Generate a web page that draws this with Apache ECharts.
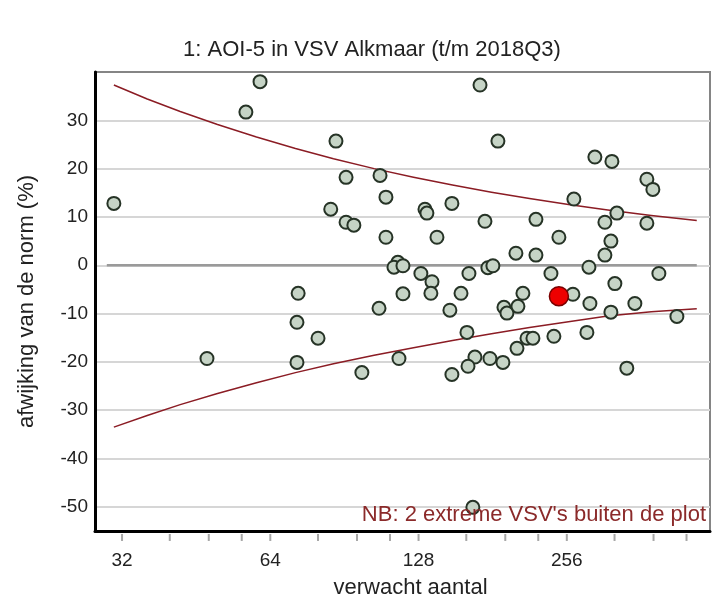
<!DOCTYPE html>
<html><head><meta charset="utf-8">
<script src="https://cdn.jsdelivr.net/npm/echarts@6/dist/echarts.min.js"></script>
<style>html,body{margin:0;padding:0;background:#fff}#c{width:715px;height:607px}</style>
</head><body><div id="c"></div>
<script>
const titleText = '1: AOI-5 in VSV Alkmaar (t/m 2018Q3)';
const xName = 'verwacht aantal';
const yName = 'afwijking van de norm (%)';
const noteText = "NB: 2 extreme VSV's buiten de plot";

const xMin = 28.2, xMax = 500;
const yMin = -55, yMax = 40, yStep = 5;
const xTickLabels = [32, 64, 128, 256];
const xTickMarks = [32, 40, 48, 56, 64, 80, 96, 112, 128, 160, 192, 224, 256, 320, 384, 448];
const yTickLabels = [-50, -40, -30, -20, -10, 0, 10, 20, 30];

const pointX = [61.0, 57.1, 87.0, 91.2, 106.9, 109.9, 30.8, 84.9, 91.2, 94.6, 109.9, 116.2, 114.1, 119.0, 72.9,
  170.6, 185.5, 291.9, 316.1, 372.2, 382.8, 264.6, 131.9, 133.1, 149.6, 323.5, 305.9, 372.2, 174.6, 221.6,
  139.5, 246.7, 314.6, 201.8, 221.6, 305.9, 129.4, 136.3, 162.0, 177.0, 181.2, 237.7, 283.9, 393.7, 320.5,
  119.0, 72.5, 106.4, 80.0, 47.6, 72.5, 116.8, 98.2,
  135.6, 156.1, 208.5, 263.4, 148.2, 190.8, 193.5, 203.7, 285.2, 314.6, 351.9, 428.3, 160.5, 212.5, 218.5,
  241.0, 281.2, 202.8, 166.6, 161.3, 178.7, 189.9, 149.6, 338.9, 165.0];
const pointY = [38.0, 31.7, 25.7, 18.2, 18.6, 14.1, 12.8, 11.6, 8.9, 8.3, 5.8, 0.6, -0.4, -0.1, -5.8,
  37.3, 25.7, 22.4, 21.5, 17.8, 15.7, 13.7, 11.6, 10.8, 12.8, 10.8, 8.9, 8.7, 9.1, 9.5,
  5.8, 5.8, 5.0, 2.5, 2.1, 2.1, -1.7, -3.4, -1.7, -0.5, -0.1, -1.7, -0.4, -1.7, -3.8,
  -5.9, -11.8, -8.9, -15.1, -19.3, -20.1, -19.3, -22.2,
  -5.8, -5.8, -5.8, -6.0, -9.3, -8.7, -9.9, -8.5, -7.9, -9.7, -7.9, -10.6, -13.9, -15.1, -15.1,
  -14.7, -13.9, -17.2, -19.0, -20.9, -19.3, -20.1, -22.6, -21.3, -50.1];

const highlightX = [246.7];
const highlightY = [-6.4];

const upperX = [30.8, 36, 42, 50, 60, 72, 86, 104, 125, 150, 180, 215, 260, 310, 380, 470];
const upperY = [37.3, 34.42, 31.83, 29.14, 26.55, 24.17, 22.04, 20.0, 18.22, 16.6, 15.12, 13.82, 12.53, 11.44, 10.3, 9.28];
const lowerX = [30.8, 36, 42, 50, 60, 72, 86, 104, 125, 150, 180, 215, 260, 310, 380, 470];
const lowerY = [-33.5, -31.08, -28.85, -26.53, -24.3, -22.22, -20.38, -18.64, -17.08, -15.58, -14.17, -12.87, -11.62, -10.52, -9.62, -9.0];
const zeroX = [29.8, 470];
const zeroY = [0, 0];

const zip = (a, b) => a.map((v, i) => [v, b[i]]);
const yTicks = [];
for (let v = yMin; v <= yMax; v += yStep) yTicks.push(v);
const splitColors = yTicks.map(v => (yTickLabels.indexOf(v) >= 0) ? '#d6d6d6' : 'rgba(0,0,0,0)');

const font = '"Liberation Sans", Arial, sans-serif';
const chart = echarts.init(document.getElementById('c'), null, {renderer: 'canvas'});
chart.setOption({
  backgroundColor: '#fff',
  animation: false,
  title: {
    text: titleText, left: 372, top: 39, padding: 0, textAlign: 'center',
    textStyle: {fontFamily: font, fontSize: 22, fontWeight: 'normal', color: '#222'}
  },
  grid: {left: 95, right: 5, top: 72, bottom: 76, show: true, borderColor: '#858585', borderWidth: 2, backgroundColor: '#fff'},
  xAxis: {
    type: 'log', logBase: 2, min: xMin, max: xMax,
    name: xName, nameLocation: 'middle', nameGap: 46,
    nameTextStyle: {fontFamily: font, fontSize: 22, color: '#222', padding: [0, 0, 0, 16]},
    axisLine: {show: true, onZero: false, lineStyle: {color: '#000', width: 3}},
    axisTick: {show: false},
    splitLine: {show: false},
    minorTick: {show: false},
    axisLabel: {
      margin: 20, fontFamily: font, fontSize: 19, color: '#222',
      formatter: v => { const r = Math.round(v); return (xTickLabels.indexOf(r) >= 0 && Math.abs(v - r) < 0.01) ? String(r) : ''; }
    }
  },
  yAxis: {
    type: 'value', min: yMin, max: yMax, interval: yStep,
    name: yName, nameLocation: 'middle', nameGap: 57, nameRotate: 90,
    nameTextStyle: {fontFamily: font, fontSize: 22, color: '#222'},
    axisLine: {show: true, onZero: false, lineStyle: {color: '#000', width: 3}},
    axisTick: {show: false},
    splitLine: {show: true, showMinLine: true, showMaxLine: true, lineStyle: {color: splitColors, width: 2}},
    axisLabel: {
      margin: 7, fontFamily: font, fontSize: 19, color: '#222',
      formatter: v => (yTickLabels.indexOf(v) >= 0) ? String(v) : ''
    }
  },
  series: [
    {
      type: 'custom', clip: false, silent: true, z: 1,
      data: xTickMarks.map(v => [v, yMin]),
      renderItem: (params, api) => {
        const p = api.coord([api.value(0), api.value(1)]);
        return {type: 'line', shape: {x1: p[0], y1: p[1] + 3, x2: p[0], y2: p[1] + 10}, style: {stroke: '#a8a8a8', lineWidth: 2}};
      }
    },
    {
      type: 'line', data: zip(zeroX, zeroY), showSymbol: false, silent: true, z: 2,
      lineStyle: {color: '#9a9a9a', width: 2.5}
    },
    {
      type: 'line', data: zip(upperX, upperY), showSymbol: false, smooth: false, silent: true, z: 3,
      lineStyle: {color: '#8b1c24', width: 1.5, join: 'round'}
    },
    {
      type: 'line', data: zip(lowerX, lowerY), showSymbol: false, smooth: false, silent: true, z: 3,
      lineStyle: {color: '#8b1c24', width: 1.5, join: 'round'}
    },
    {
      type: 'scatter', data: zip(pointX, pointY), symbol: 'circle', symbolSize: 13, z: 4,
      itemStyle: {color: '#c6d4c6', borderColor: '#263326', borderWidth: 2, opacity: 1}
    },
    {
      type: 'scatter', data: zip(highlightX, highlightY), symbol: 'circle', symbolSize: 19, z: 5,
      itemStyle: {color: '#ee0000', borderColor: '#7a0000', borderWidth: 1.5, opacity: 1}
    }
  ],
  graphic: [
    {
      type: 'text', right: 9, top: 504, z: 100,
      style: {text: noteText, fontFamily: font, fontSize: 22, fill: '#8b2a2a'}
    }
  ]
});
</script></body></html>
